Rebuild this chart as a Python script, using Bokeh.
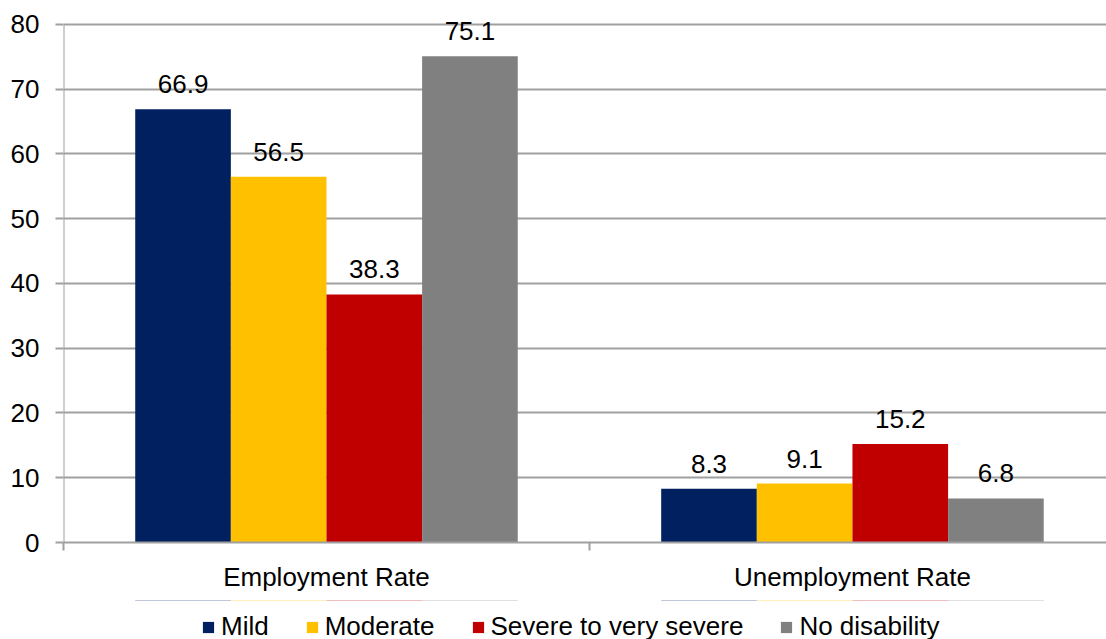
from bokeh.plotting import figure
from bokeh.layouts import column
from bokeh.models import ColumnDataSource, FixedTicker, Legend, LegendItem, Range1d
from bokeh.core.properties import value
from bokeh.embed import file_html
from bokeh.resources import INLINE

categories = ["Employment Rate", "Unemployment Rate"]
series = ["Mild", "Moderate", "Severe to very severe", "No disability"]
colors = ["#002060", "#FFC000", "#C00000", "#808080"]
mild = [66.9, 8.3]
moderate = [56.5, 9.1]
severe = [38.3, 15.2]
no_disability = [75.1, 6.8]
values = [mild, moderate, severe, no_disability]
y_ticks = [0, 10, 20, 30, 40, 50, 60, 70, 80]

FONT = "Liberation Sans"
FS = "26px"
bar_w = 1 / 5.5

p = figure(width=1106, height=600, output_backend="svg", toolbar_location=None,
           x_range=Range1d(0, 1.983), y_range=Range1d(0, 82),
           min_border_left=63, min_border_right=0, min_border_top=11, min_border_bottom=58)
p.outline_line_color = None
p.background_fill_color = "white"
p.border_fill_color = "white"

# legend strip below the chart (same bars, drawn out of its visible range)
lf = figure(width=1106, height=39, output_backend="svg", toolbar_location=None,
            x_axis_type=None, y_axis_type=None,
            x_range=Range1d(0, 1.983), y_range=Range1d(-2, -1),
            min_border_left=0, min_border_right=0, min_border_top=0, min_border_bottom=0)
lf.outline_line_color = None
lf.xgrid.grid_line_color = None
lf.ygrid.grid_line_color = None

items = []
for i, (name, vals, col) in enumerate(zip(series, values, colors)):
    off = (i - 1.5) * bar_w
    xs = [c + 0.5 + off for c in range(len(categories))]
    src = ColumnDataSource(dict(x=xs, top=vals, lab=[f"{v:.1f}" for v in vals]))
    p.vbar(x="x", top="top", width=bar_w, source=src, fill_color=col, line_color=None)
    p.text(x="x", y="top", text="lab", source=src, text_align="center",
           text_baseline="bottom", y_offset=-16, text_font=value(FONT),
           text_font_size=FS, text_color="black")
    r = lf.vbar(x="x", top="top", width=bar_w, source=src, fill_color=col, line_color=None)
    items.append(LegendItem(label=name, renderers=[r]))

# value axis line only up to the top tick
p.segment(x0=[0], y0=[y_ticks[0]], x1=[0], y1=[y_ticks[-1]], line_color="#A0A0A0", line_width=2)

# axes
p.xaxis.ticker = FixedTicker(ticks=[0.5, 1.5], minor_ticks=[0, 1, 2])
p.xaxis.major_label_overrides = {0.5: categories[0], 1.5: categories[1]}
p.xaxis.major_tick_out = 0
p.xaxis.major_tick_in = 0
p.xaxis.minor_tick_out = 8
p.xaxis.minor_tick_in = 0
p.xaxis.minor_tick_line_color = "#A0A0A0"
p.xaxis.minor_tick_line_width = 2
p.xaxis.axis_line_color = "#A0A0A0"
p.xaxis.axis_line_width = 2
p.xaxis.major_label_text_font = FONT
p.xaxis.major_label_text_font_size = FS
p.xaxis.major_label_text_color = "black"
p.xaxis.major_label_standoff = 11

p.yaxis.ticker = FixedTicker(ticks=y_ticks, minor_ticks=[])
p.yaxis.major_tick_out = 8
p.yaxis.major_tick_in = 0
p.yaxis.major_tick_line_color = "#A0A0A0"
p.yaxis.major_tick_line_width = 2
p.yaxis.axis_line_color = None
p.yaxis.major_label_text_font = FONT
p.yaxis.major_label_text_font_size = FS
p.yaxis.major_label_text_color = "black"
p.yaxis.major_label_standoff = 16

p.xgrid.grid_line_color = None
p.ygrid.ticker = FixedTicker(ticks=y_ticks)
p.ygrid.grid_line_color = "#A0A0A0"
p.ygrid.grid_line_width = 2

legend = Legend(items=items, orientation="horizontal", location=(138, -3),
                label_text_font=FONT, label_text_font_size=FS, label_text_color="black",
                glyph_width=14, glyph_height=14, label_standoff=6, spacing=36,
                border_line_color=None, background_fill_alpha=0, padding=0, margin=0)
lf.add_layout(legend, "center")

layout = column(p, lf, spacing=0)
open("out.html", "w").write(file_html(layout, INLINE))
